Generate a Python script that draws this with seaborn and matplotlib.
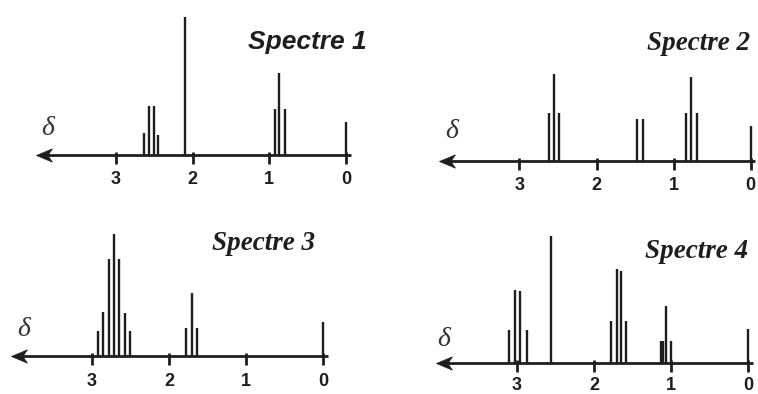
import matplotlib
matplotlib.use("Agg")
import matplotlib.pyplot as plt
from matplotlib.path import Path
import numpy as np
import pandas as pd
import seaborn as sns

# ---------------- data (chemical shift in ppm, relative intensity) ----------------
s1_shift = [2.63, 2.57, 2.50, 2.45, 2.10, 0.93, 0.87, 0.79, 0.00]
s1_int = [22, 49, 49, 20, 138, 46, 82, 46, 33]

s2_shift = [2.62, 2.55, 2.48, 1.47, 1.40, 0.84, 0.77, 0.70, 0.00]
s2_int = [48, 87, 48, 42, 42, 48, 84, 48, 35]

s3_shift = [2.92, 2.85, 2.78, 2.71, 2.64, 2.57, 2.50, 1.78, 1.70, 1.63, 0.00]
s3_int = [25, 44, 97, 122, 97, 43, 25, 28, 63, 28, 34]

s4_shift = [3.10, 3.02, 2.96, 2.87, 2.55, 1.78, 1.70, 1.65, 1.58, 1.13, 1.11, 1.07, 1.00, 0.00]
s4_int = [33, 73, 72, 33, 127, 42, 94, 92, 42, 22, 22, 57, 22, 34]

titles = ["Spectre 1", "Spectre 2", "Spectre 3", "Spectre 4"]
tick_values = [3, 2, 1, 0]
tick_labels = ["3", "2", "1", "0"]
axis_label = "δ"

# ---------------- style ----------------
sns.set_theme(style="white")
plt.rcParams["font.family"] = ["Liberation Sans", "DejaVu Sans"]

W, H, DPI = 758, 394, 100
fig = plt.figure(figsize=(W / DPI, H / DPI), dpi=DPI)
fig.patch.set_facecolor("white")

INK = "#1e1e1e"

spectra = [
    pd.DataFrame({"shift": s1_shift, "intensity": s1_int}),
    pd.DataFrame({"shift": s2_shift, "intensity": s2_int}),
    pd.DataFrame({"shift": s3_shift, "intensity": s3_int}),
    pd.DataFrame({"shift": s4_shift, "intensity": s4_int}),
]

# layout: (pixel x of delta=0, pixels per ppm, baseline pixel y)
layouts = [
    (346.0, 76.7, 155.0),
    (750.7, 77.1, 161.0),
    (323.3, 77.2, 355.5),
    (748.3, 77.2, 363.3),
]
label_offset = [-25, -25, -26, -22]
title_pos = [(307, 42), (699, 44), (264, 243), (697, 252)]
sans_title = dict(family=["Liberation Sans", "DejaVu Sans"], weight="bold", style="italic", size=19)
serif_title = dict(family=["Liberation Serif", "DejaVu Serif"], weight="bold", style="italic", size=19.5)
title_font = [sans_title, serif_title, serif_title, serif_title]
delta_pos = [(48, 129), (452, 132), (24, 330), (444, 340)]

# stealth-like arrowhead shape (tip at origin, pointing left)
head = Path([(0, 0), (1.2, 0.5), (0.85, 0), (1.2, -0.5), (0, 0)],
            [Path.MOVETO, Path.LINETO, Path.LINETO, Path.LINETO, Path.CLOSEPOLY])

XL, XR = 4.3, -0.12
YB, YT = -40.0, 160.0

for df, (x0, ppu, base), loff, title, tpos, tfont, dpos in zip(
    spectra, layouts, label_offset, titles, title_pos, title_font, delta_pos
):
    left = x0 - XL * ppu
    right = x0 - XR * ppu
    top = base - YT
    bottom = base - YB
    ax = fig.add_axes([left / W, 1 - bottom / H, (right - left) / W, (bottom - top) / H])
    ax.set_xlim(XL, XR)
    ax.set_ylim(YB, YT)
    ax.axis("off")

    # spectrum lines
    ax.vlines(df["shift"], 0, df["intensity"], color=INK, lw=1.7, clip_on=False)

    # axis with arrow
    ax.plot([-0.06, 3.92], [0, 0], color=INK, lw=2.0, solid_capstyle="butt", clip_on=False)
    ax.plot([4.04], [0], marker=head, markersize=23, color=INK, mec=INK, mew=0.5,
            clip_on=False)

    # ticks and labels
    ax.vlines(tick_values, -9, 3, color=INK, lw=2.0, clip_on=False)
    for tv, tl in zip(tick_values, tick_labels):
        ax.text(tv, loff, tl, ha="center", va="center", color=INK,
                family=["Liberation Sans", "DejaVu Sans"],
                weight="bold", size=13, clip_on=False)

    # title and delta symbol
    fig.text(tpos[0] / W, 1 - tpos[1] / H, title, ha="center", va="center",
             color=INK, **tfont)
    fig.text(dpos[0] / W, 1 - dpos[1] / H, axis_label, ha="center", va="center",
             color="#333333", family=["Liberation Serif", "DejaVu Serif"],
             style="italic", size=20)

fig.savefig("out.png", dpi=DPI, facecolor="white")
